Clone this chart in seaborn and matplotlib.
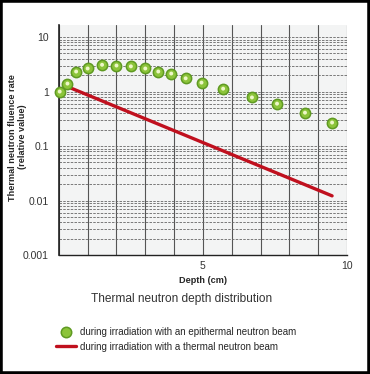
import numpy as np
import pandas as pd
import matplotlib.pyplot as plt
import matplotlib.ticker as mticker
from matplotlib.lines import Line2D
import seaborn as sns

# data
epi_depth = [0.03, 0.3, 0.6, 1.0, 1.5, 2.0, 2.5, 3.0, 3.45, 3.9, 4.4, 4.95, 5.7, 6.7, 7.57, 8.54, 9.48]
epi_value = [1.0, 1.4, 2.33, 2.65, 3.1, 3.0, 2.9, 2.65, 2.33, 2.14, 1.75, 1.46, 1.13, 0.78, 0.60, 0.41, 0.27]
th_depth = [0.03, 0.3, 9.48]
th_value = [1.0, 1.23, 0.0122]

epi = pd.DataFrame({"depth": epi_depth, "value": epi_value})
th = pd.DataFrame({"depth": th_depth, "value": th_value})

sns.set_style("white")
plt.rcParams['font.family'] = ['Liberation Sans', 'DejaVu Sans']

fig = plt.figure(figsize=(3.7, 3.74), dpi=100)
ax = fig.add_axes([0.159, 0.318, 0.779, 0.615])
ax.set_facecolor("#f3f4f4")

red = "#c0101e"
green = "#8cc43a"
green_edge = "#5f9a22"

sns.lineplot(data=th, x="depth", y="value", ax=ax, color=red, lw=2.4, zorder=3)
sns.scatterplot(data=epi, x="depth", y="value", ax=ax, s=55, color=green,
                edgecolor=green_edge, linewidth=1.1, zorder=4, clip_on=False)
# light centre of the round markers
sns.scatterplot(data=epi, x="depth", y="value", ax=ax, s=8, color="#eef7c8",
                edgecolor="none", zorder=5, clip_on=False)

ax.set_yscale("log")
ax.set_ylim(0.001, 16.6)
ax.set_xlim(0, 10)

ax.xaxis.set_major_locator(mticker.FixedLocator([5, 10]))
ax.xaxis.set_minor_locator(mticker.MultipleLocator(1))
ax.yaxis.set_major_locator(mticker.FixedLocator([0.001, 0.01, 0.1, 1, 10]))
ax.yaxis.set_major_formatter(mticker.FixedFormatter(["0.001", "0.01", "0.1", "1", "10"]))
ax.yaxis.set_minor_locator(mticker.LogLocator(base=10, subs=np.arange(2, 10)))
ax.yaxis.set_minor_formatter(mticker.NullFormatter())

ax.grid(which="both", axis="x", color="#555555", lw=0.8, ls="-")
ax.grid(which="both", axis="y", color="#666666", lw=0.6, ls=(0, (3, 1.5)))
ax.set_axisbelow(True)

ax.tick_params(axis="x", which="both", length=0, labelsize=7.5, pad=4, colors="#333333")
ax.tick_params(axis="y", which="major", length=5, width=0.8, color="#777777",
               labelsize=7.5, pad=2, labelcolor="#333333")
ax.tick_params(axis="y", which="minor", length=3.5, width=0.5, color="#888888")

for s in ["top", "right"]:
    ax.spines[s].set_visible(False)
ax.spines["left"].set_color("#222222")
ax.spines["left"].set_linewidth(1.2)
ax.spines["bottom"].set_color("#222222")
ax.spines["bottom"].set_linewidth(1.0)

ax.set_xlabel("Depth (cm)", fontsize=6.6, fontweight="bold", labelpad=4)
ax.set_ylabel("Thermal neutron fluence rate\n(relative value)", fontsize=6.6,
              fontweight="bold", linespacing=1.15)
ax.yaxis.set_label_coords(-0.11, 0.513)

fig.text(0.49, 0.2, "Thermal neutron depth distribution", ha="center", va="center",
         fontsize=8.6, color="#333333")

handles = [
    Line2D([], [], ls="none", marker="o", markersize=7.5, markerfacecolor=green,
           markeredgecolor=green_edge, markeredgewidth=1.1),
    Line2D([], [], color=red, lw=2.4),
]
labels = ["during irradiation with an epithermal neutron beam",
          "during irradiation with a thermal neutron beam"]
fig.legend(handles, labels, loc="upper left", bbox_to_anchor=(0.14, 0.135),
           frameon=False, fontsize=7, handlelength=2.1, handletextpad=0.4,
           labelspacing=0.45, borderaxespad=0)

fig.patches.append(plt.Rectangle((0, 0), 1, 1, transform=fig.transFigure,
                                 fill=False, edgecolor="black", lw=4))

fig.savefig("out.png", dpi=100)
